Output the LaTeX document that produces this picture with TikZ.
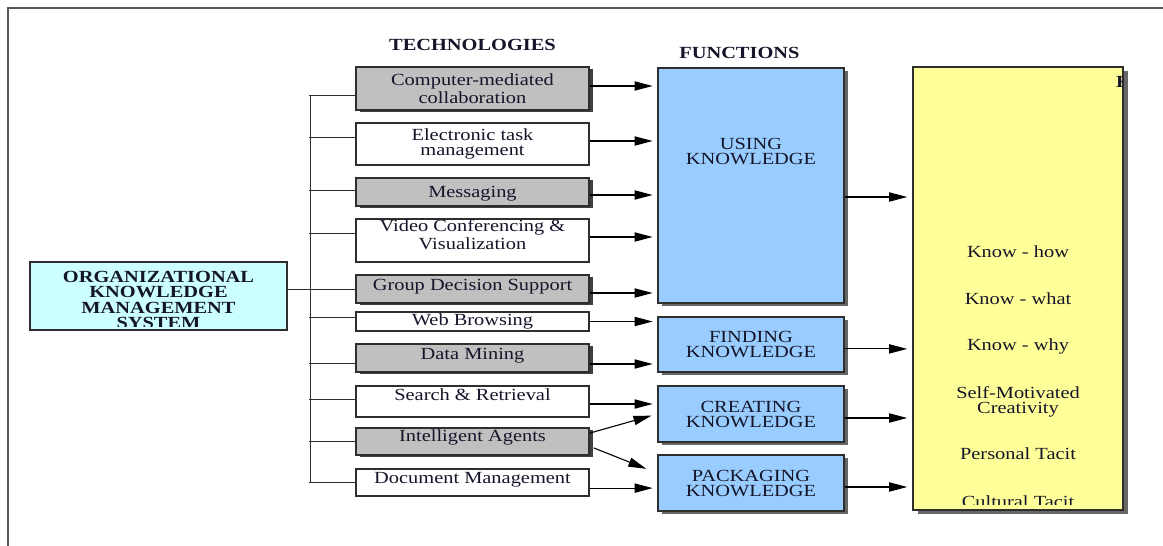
\documentclass[tikz,border=0pt]{standalone}
\usepackage{fontspec}
\setmainfont{Liberation Serif}[FakeStretch=1.2]
\usetikzlibrary{arrows.meta,positioning,shadows}

\definecolor{boxgray}{HTML}{C0C0C0}
\definecolor{funcblue}{HTML}{99CCFF}
\definecolor{knowyellow}{HTML}{FFFF99}
\definecolor{syscyan}{HTML}{CCFFFF}
\definecolor{edgecol}{HTML}{2E2E2E}
\definecolor{inkcol}{HTML}{15152A}

% empty rule that deepens the last line, so the text block sits higher
\newcommand{\sink}[1]{\rule[-#1]{0pt}{#1}}

\begin{document}
\begin{tikzpicture}[
    x=0.5pt, y=-0.5pt,
    node distance=23.3pt,
    >={Triangle[length=9pt,width=4.6pt]},
    font=\fontsize{8.5}{7.5}\selectfont,
    text=inkcol,
    box/.style={rectangle, draw=edgecol, line width=0.75pt, align=center, inner sep=0pt},
    techbox/.style={box, fill=white, minimum width=116.5pt},
    techboxg/.style={techbox, fill=boxgray,
        drop shadow={shadow xshift=2pt, shadow yshift=-1.2pt, fill=black!75, opacity=1}},
    funcbox/.style={box, fill=funcblue, minimum width=93pt,
        drop shadow={shadow xshift=2pt, shadow yshift=-1.5pt, fill=black!60, opacity=1}},
    oneline/.style={text height=5.9pt, text depth=#1},
    oneline/.default=1.9pt,
    header/.style={inner sep=0pt, font=\fontsize{8.5}{7.5}\selectfont\bfseries},
    item/.style={inner sep=0pt, align=center, text height=5.9pt, text depth=1.9pt},
    link/.style={draw=edgecol, line width=0.5pt},
    flow/.style={draw=black, line width=0.55pt, ->, shorten >=2.3pt},
    frame/.style={draw=black!65, line width=1pt}
]
    \useasboundingbox (0,0) rectangle (1163,546);
    \fill[white] (0,0) rectangle (1163,546);
    \draw[frame] (8,546) -- (8,8) -- (1163,8);

    % System
    \node[box, fill=syscyan, minimum width=128.5pt, minimum height=34pt] (OKMS) at (158.5,296) {};
    \begin{scope}
        \clip ([shift={(0.5pt,2.2pt)}]OKMS.south west) rectangle ([shift={(-0.5pt,-0.5pt)}]OKMS.north east);
        \node[header, align=center, anchor=north, font=\fontsize{8.5}{7.65}\selectfont\bfseries] (okmsText)
            at ([yshift=-4.85pt]OKMS.north) {ORGANIZATIONAL\\KNOWLEDGE\\MANAGEMENT\\SYSTEM};
    \end{scope}

    % Technologies
    \node[techboxg, minimum height=21.5pt] (CMC) at (472.5,88.5) {Computer-mediated\\collaboration};
    \node[techbox, minimum height=21pt] (ETM) at (472.5,144) {Electronic task\\management};
    \node[techboxg, minimum height=14pt, oneline=0pt] (MSG) at (472.5,192) {Messaging};
    \node[techbox, minimum height=21.5pt] (VCV) at (472.5,240.5) {Video Conferencing \&\\Visualization\sink{5.8pt}};
    \node[techboxg, minimum height=14pt, oneline=4.7pt] (GDS) at (472.5,289) {Group Decision Support};
    \node[techbox, minimum height=9.5pt, oneline] (WEB) at (472.5,321.5) {Web Browsing};
    \node[techboxg, minimum height=14pt, oneline=4.7pt] (DMN) at (472.5,358) {Data Mining};
    \node[techbox, minimum height=15.5pt, oneline=7.2pt] (SRR) at (472.5,401.5) {Search \& Retrieval};
    \node[techboxg, minimum height=13.5pt, oneline=5.5pt] (IAG) at (472.5,441.5) {Intelligent Agents};
    \node[techbox, minimum height=13.5pt, oneline=5.2pt] (DOC) at (472.5,482.5) {Document Management};
    \node[header, above=7.5pt of CMC] (techHead) {TECHNOLOGIES};

    % Functions
    \node[funcbox, minimum height=117.5pt] (USING) at (751,185.5) {USING\\KNOWLEDGE\sink{33.7pt}};
    \node[funcbox, minimum height=27.5pt] (FINDING) at (751,344.5) {FINDING\\KNOWLEDGE};
    \node[funcbox, minimum height=28pt] (CREATING) at (751,414) {CREATING\\KNOWLEDGE};
    \node[funcbox, minimum height=28pt] (PACKAGING) at (751,483) {PACKAGING\\KNOWLEDGE};
    \node[header, above=4.3pt of USING, xshift=-5.8pt] (funcHead) {FUNCTIONS};

    % Knowledge column
    \node[box, line width=0.8pt, fill=knowyellow, minimum width=105pt, minimum height=221.5pt,
        drop shadow={shadow xshift=2.5pt, shadow yshift=-1.8pt, fill=black!60, opacity=1}] (KNOW) at (1018,288.5) {};
    \begin{scope}
        \clip ([yshift=3pt]KNOW.south west) rectangle ([xshift=-0.5pt]KNOW.north east);
        \node[header, anchor=west] (knowHead) at ([shift={(-4pt,-7.75pt)}]KNOW.north east) {K};
        \node[item] (kHow) at ([yshift=17.4pt]KNOW.center) {Know - how};
        \node[item, below of=kHow] (kWhat) {Know - what};
        \node[item, below of=kWhat] (kWhy) {Know - why};
        \node[inner sep=0pt, align=center, below of=kWhy, node distance=27.4pt] (kSelf) {Self-Motivated\\Creativity};
        \node[item, below of=kSelf, node distance=26.7pt] (kPers) {Personal Tacit};
        \node[item, below of=kPers, node distance=24pt] (kCult) {Cultural Tacit};
    \end{scope}

    % Bus from the system box
    \draw[link] ([yshift=-3.6pt]CMC.west -| 310,0) -- (DOC.west -| 310,0);
    \draw[link] (OKMS.east |- GDS.west) -- (GDS.west);
    \draw[link] ([yshift=-3.6pt]CMC.west) -- ++(-23pt,0);
    \draw[link] ([yshift=3.5pt]ETM.west) -- ++(-23pt,0);
    \draw[link] ([yshift=1pt]MSG.west) -- ++(-23pt,0);
    \draw[link] ([yshift=3.75pt]VCV.west) -- ++(-23pt,0);
    \draw[link] ([yshift=2.25pt]WEB.west) -- ++(-23pt,0);
    \draw[link] ([yshift=-2.5pt]DMN.west) -- ++(-23pt,0);
    \draw[link] ([yshift=1.25pt]SRR.west) -- ++(-23pt,0);
    \draw[link] (IAG.west) -- ++(-23pt,0);
    \draw[link] (DOC.west) -- ++(-23pt,0);

    % Technologies to functions
    \draw[flow] ([yshift=1.25pt]CMC.east) -- ([yshift=1.25pt]CMC.east -| USING.west);
    \draw[flow] ([yshift=1.5pt]ETM.east) -- ([yshift=1.5pt]ETM.east -| USING.west);
    \draw[flow] ([yshift=-1.5pt]MSG.east) -- ([yshift=-1.5pt]MSG.east -| USING.west);
    \draw[flow] ([yshift=1.75pt]VCV.east) -- ([yshift=1.75pt]VCV.east -| USING.west);
    \draw[flow] ([yshift=-2pt]GDS.east) -- ([yshift=-2pt]GDS.east -| USING.west);
    \draw[flow] (WEB.east) -- (WEB.east -| FINDING.west);
    \draw[flow] ([yshift=-3pt]DMN.east) -- ([yshift=-3pt]DMN.east -| FINDING.west);
    \draw[flow] ([yshift=-1.25pt]SRR.east) -- ([yshift=-1.25pt]SRR.east -| CREATING.west);
    \draw[flow, shorten >=3pt] ([yshift=4.2pt]IAG.east) -- (CREATING.west);
    \draw[flow, shorten >=5.9pt] ([shift={(2pt,-3.2pt)}]IAG.east) -- ([yshift=4.9pt]PACKAGING.west);
    \draw[flow] ([yshift=-2.8pt]DOC.east) -- ([yshift=-2.8pt]DOC.east -| PACKAGING.west);

    % Functions to knowledge
    \draw[flow, shorten >=2.5pt] ([yshift=-5.75pt]USING.east) -- ([yshift=-5.75pt]USING.east -| KNOW.west);
    \draw[flow, shorten >=2.5pt] ([yshift=-2.2pt]FINDING.east) -- ([yshift=-2.2pt]FINDING.east -| KNOW.west);
    \draw[flow, shorten >=2.5pt] ([yshift=-2pt]CREATING.east) -- ([yshift=-2pt]CREATING.east -| KNOW.west);
    \draw[flow, shorten >=2.5pt] ([yshift=-2pt]PACKAGING.east) -- ([yshift=-2pt]PACKAGING.east -| KNOW.west);
\end{tikzpicture}
\end{document}
